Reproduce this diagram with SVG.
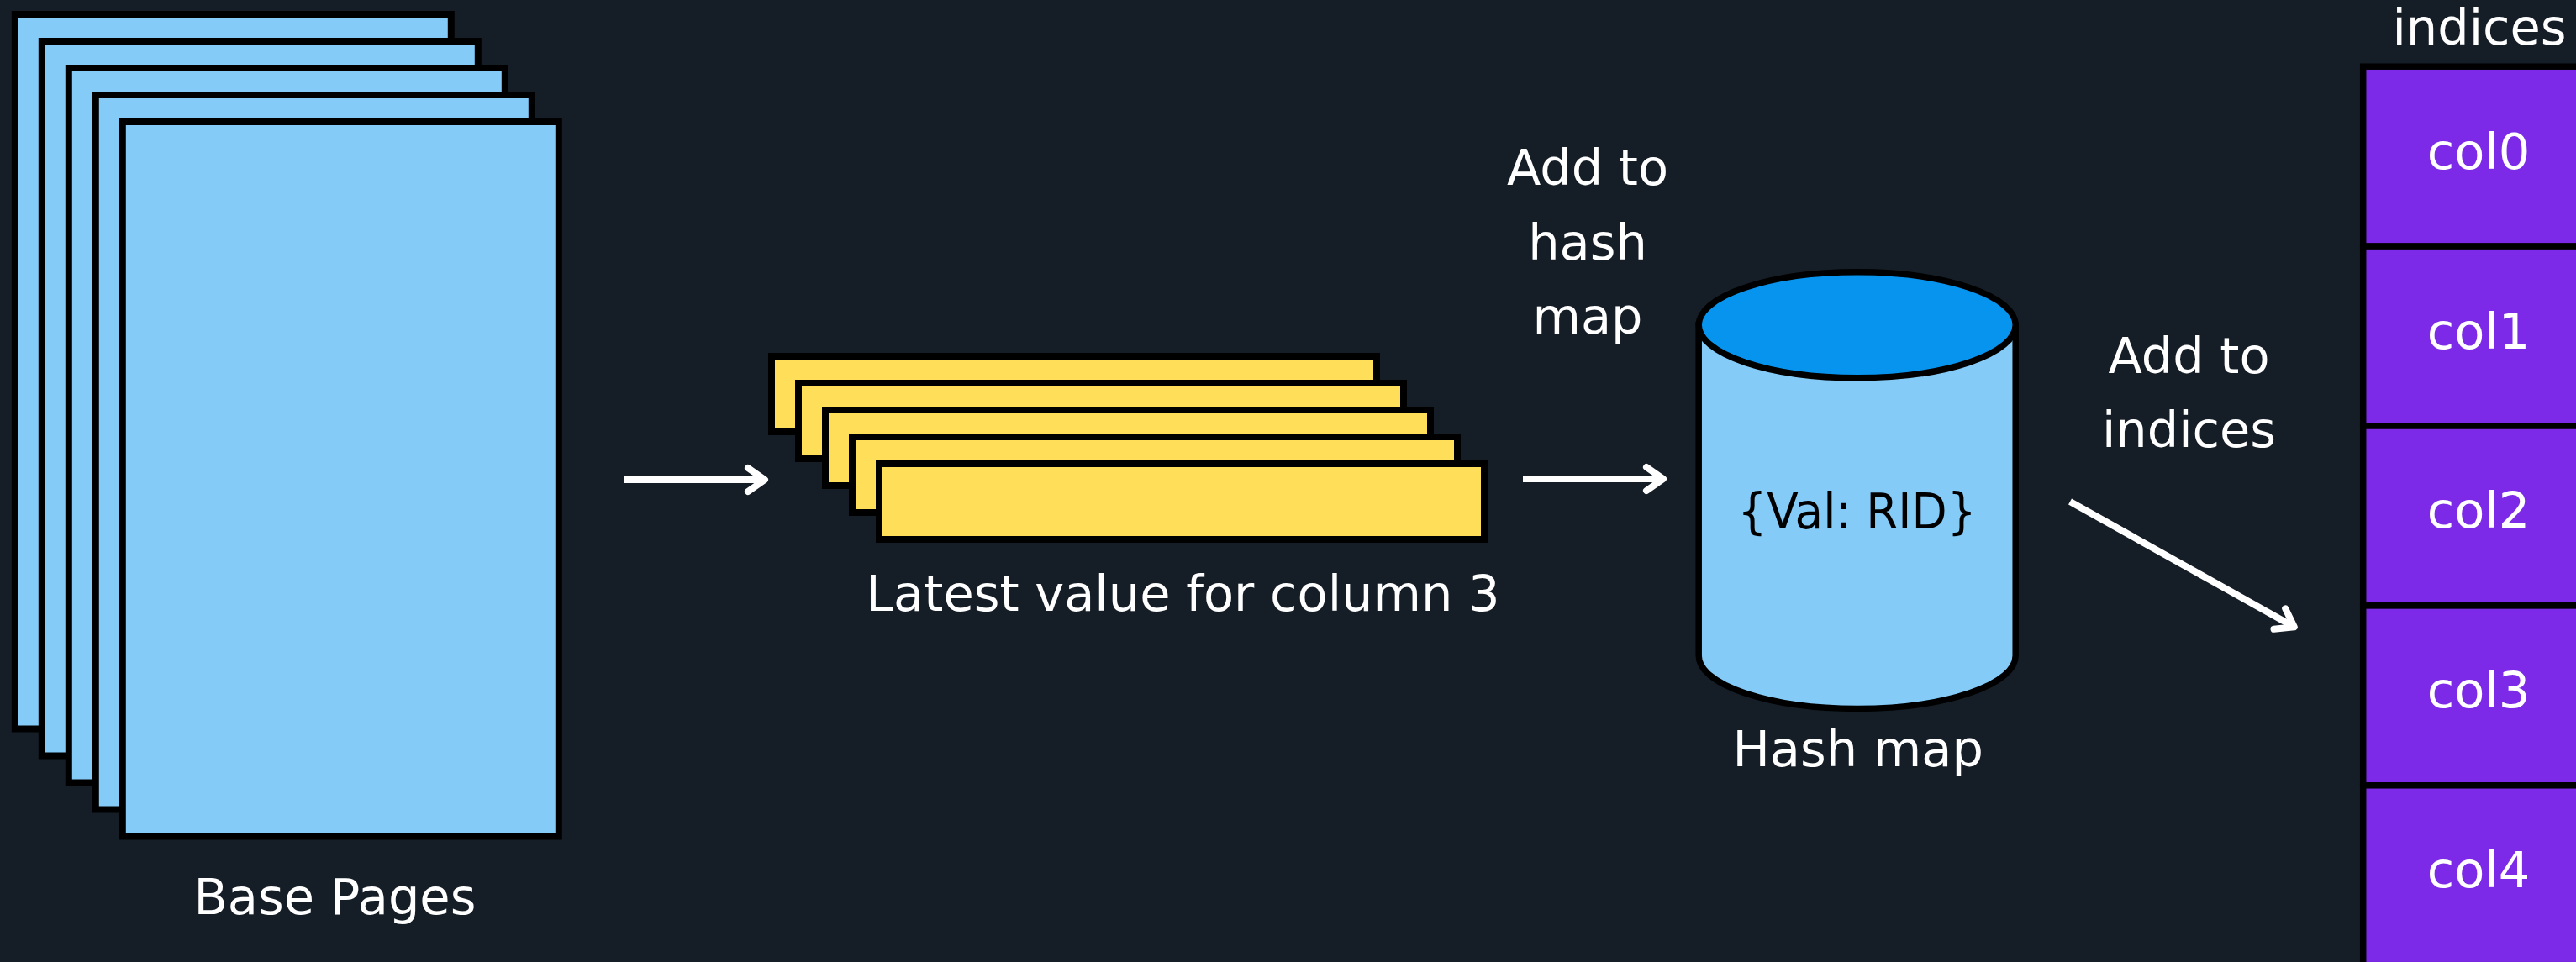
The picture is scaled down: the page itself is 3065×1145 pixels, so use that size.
<svg xmlns="http://www.w3.org/2000/svg" width="3065" height="1145" viewBox="0 0 3065 1145">
  <style>
    .page { fill: #84CBF8; stroke: #000; stroke-width: 8; }
    .card { fill: #FFDE59; stroke: #000; stroke-width: 8; }
    .cyl-body { fill: #84CBF8; stroke: #000; stroke-width: 7.5; }
    .cyl-top { fill: #0794EE; stroke: #000; stroke-width: 7.5; }
    .cell { fill: #7C2AE8; stroke: #000; stroke-width: 7.5; }
    .lbl { font-family: "DejaVu Sans", "Liberation Sans", sans-serif; font-size: 59px; fill: #fff; text-anchor: middle; }
    .dark { fill: #000; }
    .wire { fill: none; stroke: #fff; stroke-width: 8; stroke-linecap: butt; }
    .head { fill: none; stroke: #fff; stroke-width: 8; stroke-linecap: round; stroke-linejoin: round; }
  </style>
  <defs>
    <marker id="chev" markerUnits="userSpaceOnUse" viewBox="-30 -30 60 60" markerWidth="60" markerHeight="60" refX="0" refY="0" orient="auto" overflow="visible">
      <path class="head" d="M-20,-14 L0,0 L-20,14"/>
    </marker>
  </defs>

  <rect width="3065" height="1145" fill="#151E27"/>

  <!-- stack of base pages, back to front -->
  <g id="base-pages">
    <rect class="page" x="17.8" y="17" width="519" height="850.5"/>
    <rect class="page" x="49.8" y="49" width="519" height="850.5"/>
    <rect class="page" x="81.8" y="81" width="519" height="850.5"/>
    <rect class="page" x="113.8" y="113" width="519" height="850.5"/>
    <rect class="page" x="145.8" y="145" width="519" height="850.5"/>
    <text class="lbl" x="398.4" y="1087.5">Base Pages</text>
  </g>

  <!-- latest values of column 3 -->
  <g id="latest-values">
    <rect class="card" x="918" y="424" width="720" height="90"/>
    <rect class="card" x="950" y="456" width="720" height="90"/>
    <rect class="card" x="982" y="488" width="720" height="90"/>
    <rect class="card" x="1014" y="520" width="720" height="90"/>
    <rect class="card" x="1046" y="552" width="720" height="90"/>
    <text class="lbl" x="1407.4" y="726.7">Latest value for column 3</text>
  </g>

  <!-- hash map cylinder -->
  <g id="hash-map">
    <path class="cyl-body" d="M2021.2,386.8 L2021.2,780.5 A188.5,63 0 0 0 2398.2,780.5 L2398.2,386.8 Z"/>
    <ellipse class="cyl-top" cx="2209.7" cy="386.8" rx="188.5" ry="63"/>
    <text class="lbl dark" x="2209.5" y="628.6" textLength="284" lengthAdjust="spacingAndGlyphs">{Val: RID}</text>
    <text class="lbl" x="2210.7" y="911.7">Hash map</text>
  </g>

  <!-- per-column index list -->
  <g id="indices">
    <text class="lbl" x="2950" y="52.6">indices</text>
    <rect class="cell" x="2811.7" y="79.2" width="280" height="213.9"/>
    <rect class="cell" x="2811.7" y="293.1" width="280" height="213.9"/>
    <rect class="cell" x="2811.7" y="507" width="280" height="213.9"/>
    <rect class="cell" x="2811.7" y="720.9" width="280" height="213.9"/>
    <rect class="cell" x="2811.7" y="934.8" width="280" height="213.9"/>
    <text class="lbl" x="2949" y="200.8">col0</text>
    <text class="lbl" x="2949" y="414.8">col1</text>
    <text class="lbl" x="2949" y="628">col2</text>
    <text class="lbl" x="2949" y="842">col3</text>
    <text class="lbl" x="2949" y="1056">col4</text>
  </g>

  <!-- step captions -->
  <g id="step-labels">
    <text class="lbl" x="1889" y="220.4">Add to</text>
    <text class="lbl" x="1889" y="309.2">hash</text>
    <text class="lbl" x="1889" y="397.4">map</text>
    <text class="lbl" x="2604.5" y="444.3">Add to</text>
    <text class="lbl" x="2604.5" y="531.7">indices</text>
  </g>

  <!-- flow arrows -->
  <g id="connectors">
    <path class="wire" d="M742.5,571 L910,571" marker-end="url(#chev)"/>
    <path class="wire" d="M1812,570 L1979,570" marker-end="url(#chev)"/>
    <path class="wire" d="M2463,597 L2729.8,746.3" marker-end="url(#chev)"/>
  </g>
</svg>
